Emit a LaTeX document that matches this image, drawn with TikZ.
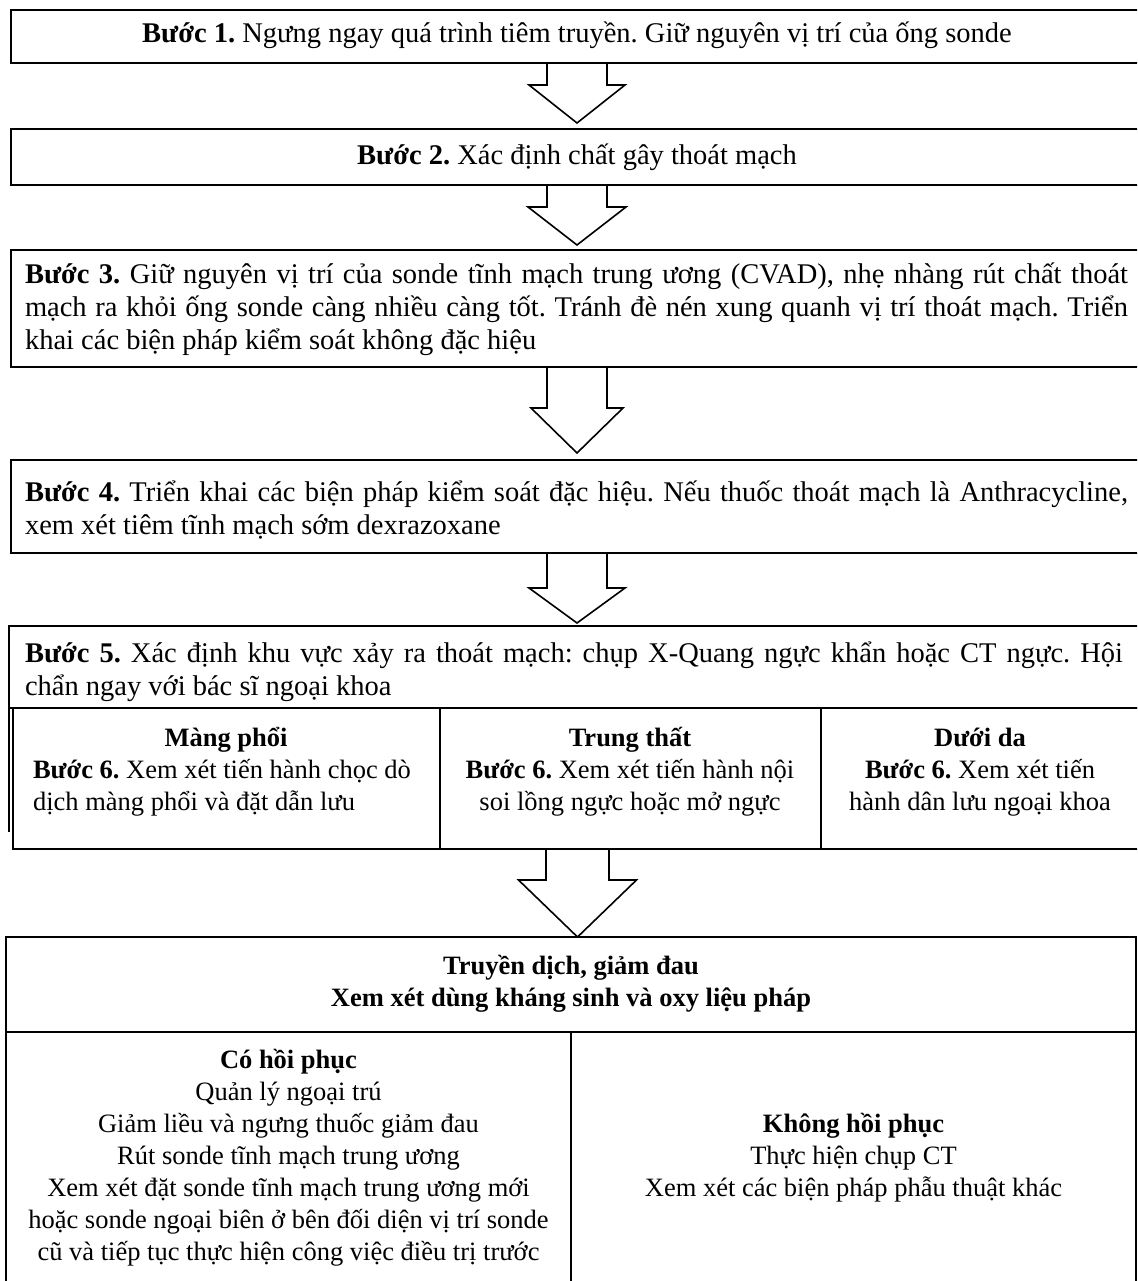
\documentclass[tikz,border=0pt]{standalone}
\usepackage{fontspec}
\setmainfont{Liberation Serif}
\usetikzlibrary{calc}
\newcommand\blockarrow[5]{%
  \draw[blk] ($(#1)+(-#3,0)$) -- ++(0,#5) -- ++(#3-#4,0) -- (#2)
    -- ($(#1)+(#4,#5)$) -- ++(#3-#4,0) -- ($(#1)+(#3,0)$);}
\newcommand\rs{\frenchspacing\spaceskip=0.25em\relax\xspaceskip=0pt\relax}
\newcommand\jline[2]{\makebox[#1][s]{\frenchspacing\spaceskip=0.25em plus 1fil\relax\xspaceskip=0pt\relax #2}}
\begin{document}
\begin{tikzpicture}[x=1pt,y=-1pt,
  box/.style={draw, line width=1.6pt, rectangle, inner sep=0pt, outer sep=0pt, anchor=north west},
  txtA/.style={font=\fontsize{28.5}{33}\selectfont, inner sep=0pt, outer sep=0pt},
  txtB/.style={font=\fontsize{26.5}{32}\selectfont, inner sep=0pt, outer sep=0pt},
  blk/.style={draw, line width=1.6pt, line join=miter}]
\useasboundingbox (0,0) rectangle (1137,1281);
\begin{scope}
\clip (0,0) rectangle (1137,1281);
% boxes
\node[box, minimum width=1132pt, minimum height=53pt] (b1) at (11,10) {};
\node[box, minimum width=1132pt, minimum height=56pt] (b2) at (11,129) {};
\node[box, minimum width=1132pt, minimum height=117pt] (b3) at (11,250) {};
\node[box, minimum width=1132pt, minimum height=93pt] (b4) at (11,460) {};
\node[box, minimum width=1136pt, minimum height=82pt] (b5) at (9,626) {};
\draw[blk] (b5.south west) -- ++(0,124);
\node[box, minimum width=427pt, minimum height=141pt] (c1) at (13,708) {};
\node[box, minimum width=381pt, minimum height=141pt] (c2) at (440,708) {};
\node[box, minimum width=329pt, minimum height=141pt] (c3) at (821,708) {};
\node[box, minimum width=1130pt, minimum height=95pt] (h1) at (6,937) {};
\node[box, minimum width=565pt, minimum height=320pt] (l1) at (6,1032) {};
\node[box, minimum width=565pt, minimum height=320pt] (r1) at (571,1032) {};
\coordinate (a5top) at (577.5,849);
% arrows
\blockarrow{b1.south}{$(b2.north)+(0,-6)$}{30}{48}{22}
\blockarrow{b2.south}{$(b3.north)+(0,-5)$}{30}{49}{22}
\blockarrow{b3.south}{$(b4.north)+(0,-7)$}{30}{46}{41}
\blockarrow{b4.south}{$(b5.north)+(0,-3)$}{30}{48}{35}
\blockarrow{a5top}{h1.north -| a5top}{31.5}{59}{31}
% texts
\node[txtA, anchor=base] (t1) at (577,43) {\rs\textbf{Bước 1.} Ngưng ngay quá trình tiêm truyền. Giữ nguyên vị trí của ống sonde};
\node[txtA, anchor=base] (t2) at (577,165) {\rs\textbf{Bước 2.} Xác định chất gây thoát mạch};
\node[txtA, anchor=base west, text width=1103pt, align=left] (t3) at (25,283)
  {\rs\jline{1103pt}{\textbf{Bước 3.} Giữ nguyên vị trí của sonde tĩnh mạch trung ương (CVAD), nhẹ nhàng rút chất thoát}\\
   \jline{1103pt}{mạch ra khỏi ống sonde càng nhiều càng tốt. Tránh đè nén xung quanh vị trí thoát mạch. Triển}\\
   khai các biện pháp kiểm soát không đặc hiệu};
\node[txtA, anchor=base west, text width=1103pt, align=left] (t4) at (25,501)
  {\rs\jline{1103pt}{\textbf{Bước 4.} Triển khai các biện pháp kiểm soát đặc hiệu. Nếu thuốc thoát mạch là Anthracycline,}\\
   xem xét tiêm tĩnh mạch sớm dexrazoxane};
\node[txtA, anchor=base west, text width=1103pt, align=left] (t5) at (25,662)
  {\rs\jline{1098pt}{\textbf{Bước 5.} Xác định khu vực xảy ra thoát mạch: chụp X-Quang ngực khẩn hoặc CT ngực. Hội}\\
   chẩn ngay với bác sĩ ngoại khoa};
\node[txtB, anchor=base west, text width=400pt, align=left] (t6) at (33,746)
  {\rs\makebox[386pt]{\textbf{Màng phổi}}\\ \textbf{Bước 6.} Xem xét tiến hành chọc dò\\ dịch màng phổi và đặt dẫn lưu};
\node[txtB, anchor=base, text width=370pt, align=center] (t7) at (630,746)
  {\rs\textbf{Trung thất}\\ \textbf{Bước 6.} Xem xét tiến hành nội\\ soi lồng ngực hoặc mở ngực};
\node[txtB, anchor=base, text width=320pt, align=center] (t8) at (980,746)
  {\rs\textbf{Dưới da}\\ \textbf{Bước 6.} Xem xét tiến\\ hành dân lưu ngoại khoa};
\node[txtB, anchor=base, text width=1100pt, align=center] (t9) at (571,974)
  {\rs\textbf{Truyền dịch, giảm đau}\\ \textbf{Xem xét dùng kháng sinh và oxy liệu pháp}};
\node[txtB, anchor=base, text width=560pt, align=center] (t10) at (288.5,1068)
  {\rs\textbf{Có hồi phục}\\ Quản lý ngoại trú\\ Giảm liều và ngưng thuốc giảm đau\\ Rút sonde tĩnh mạch trung ương\\
   Xem xét đặt sonde tĩnh mạch trung ương mới\\ hoặc sonde ngoại biên ở bên đối diện vị trí sonde\\
   cũ và tiếp tục thực hiện công việc điều trị trước};
\node[txtB, anchor=base, text width=560pt, align=center] (t11) at (853.5,1132)
  {\rs\textbf{Không hồi phục}\\ Thực hiện chụp CT\\ Xem xét các biện pháp phẫu thuật khác};
\end{scope}
\end{tikzpicture}
\end{document}
